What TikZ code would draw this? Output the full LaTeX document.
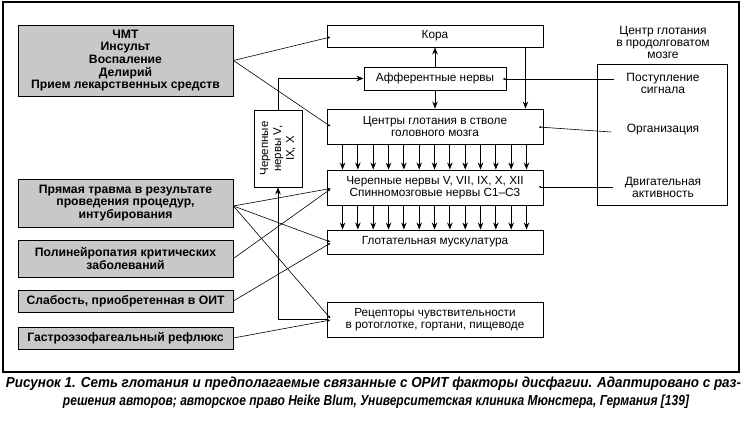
\documentclass[tikz,border=0pt]{standalone}
\usepackage{fontspec}
\setmainfont{Liberation Sans}
\usetikzlibrary{arrows.meta,calc}
\definecolor{boxgray}{RGB}{200,200,200}
\begin{document}
\begin{tikzpicture}[x=1pt,y=-1pt,
  wbox/.style={draw, line width=0.9pt, inner sep=0pt, align=center, font=\fontsize{11.8}{11.6}\selectfont},
  gbox/.style={wbox, fill=boxgray, font=\fontsize{12.2}{12.6}\selectfont\bfseries},
  conn/.style={line width=0.6pt, -{Latex[length=2.6pt,width=2.4pt]}},
  barrow/.style={line width=0.8pt, -{Stealth[length=7pt,width=5.5pt]}},
  lbl/.style={align=center, inner sep=0pt, font=\fontsize{12}{12}\selectfont},
  capt/.style={inner sep=0pt, font=\bfseries\itshape\fontsize{14.5}{15}\selectfont}
]
\useasboundingbox (0,0) rectangle (746,422);
\draw[line width=1.1pt] (3,2) rectangle (739,372);

% central column
\node[wbox, minimum width=216, minimum height=22] (kora) at (435,36) {Кора};
\node[wbox, minimum width=142, minimum height=23] (aff) at (435,78.5) {Афферентные нервы};
\node[wbox, minimum width=216, minimum height=35] (ctr) at (435,126.5) {Центры глотания в стволе\\головного мозга};
\node[wbox, minimum width=216, minimum height=35] (cn) at (435,187.5) {Черепные нервы V, VII, IX, X, XII\\Спинномозговые нервы C1--C3};
\node[wbox, minimum width=216, minimum height=24] (glm) at (435,242) {Глотательная мускулатура};
\node[wbox, minimum width=216, minimum height=35] (rec) at (435,319.5) {Рецепторы чувствительности\\в ротоглотке, гортани, пищеводе};

% vertical box
\node[wbox, minimum width=48, minimum height=77] (vb) at (278,148.5) {};
\node[lbl, rotate=90, font=\fontsize{11.5}{13}\selectfont] (vbt) at (vb.center) {Черепные\\нервы V,\\IX, X};

% medulla box
\node[wbox, minimum width=130, minimum height=141] (med) at (662,134.5) {};
\node[lbl] (medt) at (663,42) {Центр глотания\\в продолговатом\\мозге};
\node[lbl] (sig) at (663,83) {Поступление\\сигнала};
\node[lbl] (org) at (663,130) {Организация};
\node[lbl] (mot) at (663,187) {Двигательная\\активность};
\coordinate (sigL) at (614,79);
\coordinate (orgL) at (611,132);
\coordinate (motL) at (613,187);

% grey boxes
\node[gbox, minimum width=215, minimum height=71] (g1) at (125.5,60.5) {ЧМТ\\Инсульт\\Воспаление\\Делирий\\Прием лекарственных средств};
\node[gbox, minimum width=215, minimum height=48] (g2) at (125.5,203) {Прямая травма в результате\\проведения процедур,\\интубирования};
\node[gbox, minimum width=215, minimum height=37] (g3) at (125.5,258.5) {Полинейропатия критических\\заболеваний};
\node[gbox, minimum width=215, minimum height=22] (g4) at (125.5,301) {Слабость, приобретенная в ОИТ};
\node[gbox, minimum width=215, minimum height=22] (g5) at (125.5,338) {Гастроэзофагеальный рефлюкс};

% big arrows in the column
\draw[barrow] (aff.north) -- (kora.south);
\draw[barrow] (aff.south) -- (ctr.north);
\draw[barrow] ($(kora.south east)+(-18,0)$) -- ($(ctr.north east)+(-18,0)$);
\foreach \i in {0,...,12} {
  \draw[barrow] ($(ctr.south west)+(16+\i*15.33,0)$) -- ($(cn.north west)+(16+\i*15.33,0)$);
  \draw[barrow] ($(cn.south west)+(16+\i*15.33,0)$) -- ($(glm.north west)+(16+\i*15.33,0)$);
}
\draw[barrow] (vb.north) |- (aff.west);
\draw[barrow] (rec.west) -| (vb.south);

% medulla connectors
\draw[conn] (sigL) -- ($(aff.east)+(-4,0.5)$);
\draw[conn] (orgL) -- ($(ctr.east)+(-5,0.5)$);
\draw[conn] (motL) -- ($(cn.east)+(-5,-0.5)$);

% grey box connectors
\draw[conn] (g1.east) -- ($(kora.west)+(4,1)$);
\draw[conn] (g1.east) -- ($(ctr.west)+(4,0)$);
\draw[conn] ($(g2.east)+(0,3)$) -- ($(cn.west)+(4,1)$);
\draw[conn] ($(g2.east)+(0,3)$) -- ($(glm.west)+(4,0)$);
\draw[conn] ($(g2.east)+(0,3)$) -- ($(rec.west)+(4,-1)$);
\draw[conn] (g3.east) -- ($(cn.west)+(4,1.5)$);
\draw[conn] (g4.east) -- ($(glm.west)+(4,1)$);
\draw[conn] (g5.east) -- ($(rec.west)+(4,0.5)$);

% caption
\node[capt] (cap1) at (373.5,384) {\resizebox{735pt}{\height}{Рисунок 1. Сеть глотания и предполагаемые связанные с ОРИТ факторы дисфагии. Адаптировано с раз-}};
\node[capt] (cap2) at (376,402) {\resizebox{626pt}{\height}{решения авторов; авторское право Heike Blum, Университетская клиника Мюнстера, Германия [139]}};
\end{tikzpicture}
\end{document}
